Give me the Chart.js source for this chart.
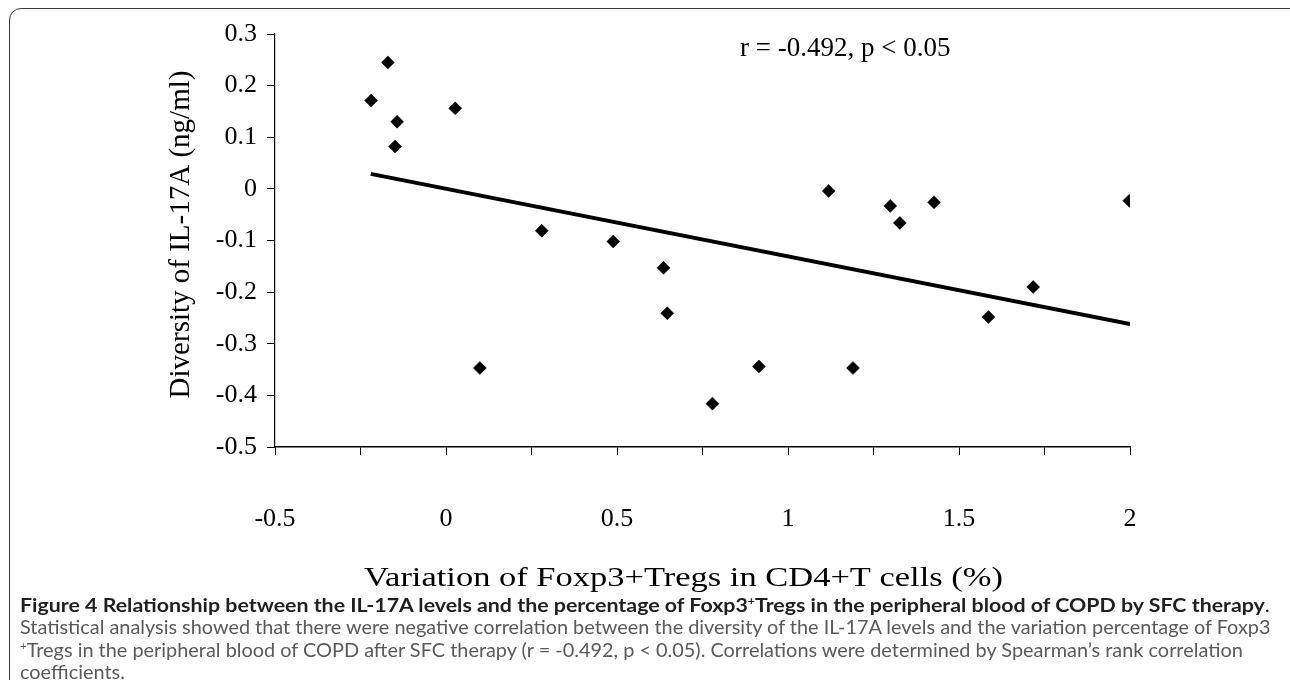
<!DOCTYPE html>
<html><head><meta charset="utf-8">
<script src="https://cdn.jsdelivr.net/npm/chart.js@4/dist/chart.umd.min.js"></script>
<style>
html,body{margin:0;padding:0;background:#fff;}
body{width:1290px;height:680px;overflow:hidden;position:relative;font-family:"Liberation Serif",serif;}
#frame{position:absolute;left:9px;top:8px;width:1300px;height:720px;border:1.5px solid #3a3a3a;border-radius:12px;box-sizing:border-box;}
#wrap{position:absolute;left:0;top:0;width:1290px;height:600px;}
#note{position:absolute;left:740px;top:34px;font-family:"Liberation Serif",serif;font-size:27px;line-height:1;white-space:nowrap;color:#000;}
.cap{position:absolute;left:20px;white-space:nowrap;font-family:Lato,"Noto Sans",sans-serif;font-size:19px;line-height:20px;transform-origin:0 50%;color:#5a5a5a;}
.cap.b{font-weight:bold;color:#231f20;}
sup{font-size:11px;line-height:0;vertical-align:7px;}
</style></head>
<body>
<div id="frame"></div>
<div id="wrap"><canvas id="c"></canvas></div>
<div id="note">r = -0.492, p &lt; 0.05</div>
<div class="cap b" id="l1" data-w="1250" style="top:595px;">Figure 4 Relationship between the IL-17A levels and the percentage of Foxp3<sup>+</sup>Tregs in the peripheral blood of COPD by SFC therapy<span style="font-weight:normal">.</span></div>
<div class="cap" id="l2" data-w="1250" style="top:617px;">Statistical analysis showed that there were negative correlation between the diversity of the IL-17A levels and the variation percentage of Foxp3</div>
<div class="cap" id="l3" data-w="1223" style="top:640px;"><sup>+</sup>Tregs in the peripheral blood of COPD after SFC therapy (r = -0.492, p &lt; 0.05). Correlations were determined by Spearman’s rank correlation</div>
<div class="cap" id="l4" style="top:662px;">coefficients.</div>
<script>
const xValues = [-0.219,-0.170,-0.143,-0.149,0.027,0.099,0.280,0.489,0.636,0.647,0.779,0.915,1.119,1.190,1.299,1.327,1.427,1.586,1.717,1.998];
const yValues = [0.171,0.245,0.130,0.082,0.156,-0.347,-0.081,-0.102,-0.153,-0.241,-0.416,-0.344,-0.004,-0.347,-0.033,-0.066,-0.026,-0.248,-0.190,-0.023];
const trendX = [-0.22, 2.0];
const trendY = [0.029, -0.262];
const xTickLabels = ['-0.5','0','0.5','1','1.5','2'];
const yTickLabels = ['-0.5','-0.4','-0.3','-0.2','-0.1','0','0.1','0.2','0.3'];
const xTitle = 'Variation of Foxp3+Tregs in CD4+T cells (%)';
const yTitle = 'Diversity of IL-17A (ng/ml)';

const points = xValues.map((x,i)=>({x:x,y:yValues[i]}));
const trend = trendX.map((x,i)=>({x:x,y:trendY[i]}));

const serif = '"Liberation Serif", serif';

const titlePlugin = {
  id:'stretchedTitles',
  afterDraw(chart){
    const ctx = chart.ctx;
    const xs = chart.scales.x, ys = chart.scales.y;
    ctx.save();
    ctx.fillStyle = '#000';
    ctx.textAlign = 'center';
    ctx.textBaseline = 'middle';
    ctx.font = '28px ' + serif;
    let w = ctx.measureText(xTitle).width;
    ctx.save();
    ctx.translate((xs.left + xs.right)/2 - 19, 579);
    ctx.scale(639 / w, 1);
    ctx.fillText(xTitle, 0, 0);
    ctx.restore();
    ctx.font = '29px ' + serif;
    ctx.save();
    ctx.translate(181, (ys.top + ys.bottom)/2 - 6);
    ctx.rotate(-Math.PI/2);
    ctx.fillText(yTitle, 0, 0);
    ctx.restore();
    ctx.restore();
  }
};

new Chart(document.getElementById('c'), {
  type:'scatter',
  data:{datasets:[
    {data:points, pointStyle:'rectRot', pointRadius:6.5, backgroundColor:'#000', borderColor:'#000', borderWidth:0.5, showLine:false},
    {data:trend, type:'line', showLine:true, borderColor:'#000', borderWidth:4, pointRadius:0, fill:false, tension:0}
  ]},
  options:{
    responsive:true, maintainAspectRatio:false, animation:false,
    layout:{padding:{left:0,top:34,right:160,bottom:0}},
    plugins:{legend:{display:false},tooltip:{enabled:false}},
    scales:{
      x:{type:'linear', min:-0.5, max:2,
        afterFit:(s)=>{s.height=153;},
        afterBuildTicks:(s)=>{const t=[];for(let i=0;i<=10;i++)t.push({value:-0.5+i*0.25});s.ticks=t;},
        ticks:{autoSkip:false, maxRotation:0, padding:49, color:'#000', font:{family:serif,size:26},
          callback:(v)=>{const k=Math.round((v+0.5)/0.5*1000)/1000; return Number.isInteger(k)?xTickLabels[k]:'';}},
        grid:{drawOnChartArea:false, drawTicks:true, tickLength:8, color:'#000', tickColor:'#000'},
        border:{display:true,color:'#000',width:1.5},
        title:{display:false}
      },
      y:{type:'linear', min:-0.5, max:0.3,
        afterFit:(s)=>{s.width=275;},
        afterBuildTicks:(s)=>{const t=[];for(let i=0;i<=8;i++)t.push({value:-0.5+i*0.1});s.ticks=t;},
        ticks:{autoSkip:false, padding:10, color:'#000', font:{family:serif,size:26},
          callback:(v)=>{const k=Math.round((v+0.5)/0.1); return yTickLabels[k];}},
        grid:{drawOnChartArea:false, drawTicks:true, tickLength:8, color:'#000', tickColor:'#000'},
        border:{display:true,color:'#000',width:1.2},
        title:{display:false}
      }
    }
  },
  plugins:[titlePlugin]
});
document.fonts.ready.then(()=>{
  let f = 1;
  document.querySelectorAll('.cap').forEach(el=>{
    if (el.dataset.w) { f = +el.dataset.w / el.scrollWidth; }
    el.style.transform='scaleX('+f+')';
  });
});
</script>
</body></html>
